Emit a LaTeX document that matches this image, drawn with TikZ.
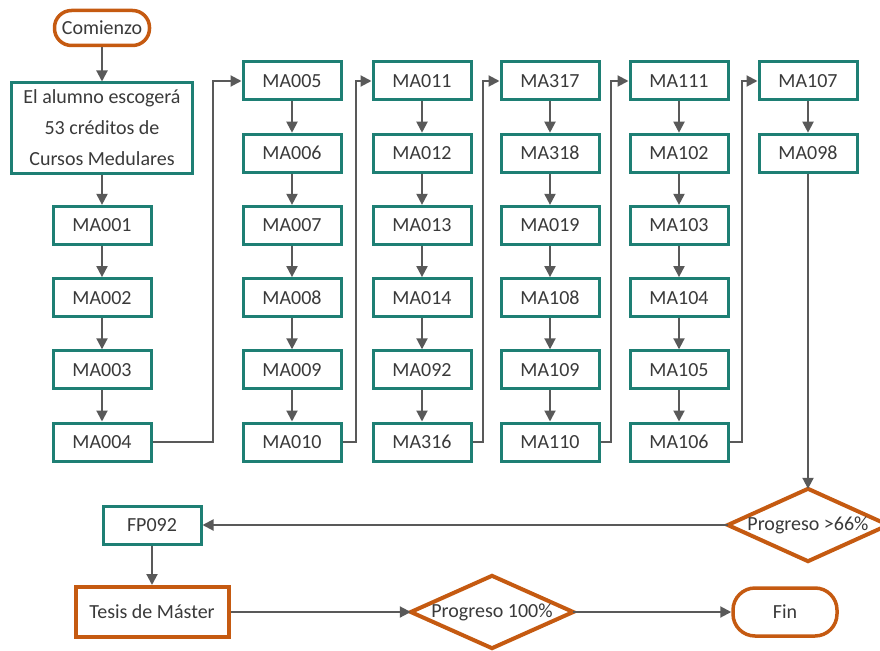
\documentclass[tikz,border=0pt]{standalone}
\usepackage{fontspec}
\setmainfont{Carlito}
\usetikzlibrary{arrows.meta,calc}
\definecolor{teal1}{HTML}{1E7F74}
\definecolor{orng}{HTML}{C55A11}
\definecolor{conn}{HTML}{595959}
\definecolor{txt}{HTML}{3A3A3A}
\tikzset{
  box/.style={draw=teal1, line width=3pt, fill=white, minimum width=98pt, minimum height=38pt, inner sep=0pt, text=txt, font=\fontsize{20}{31}\selectfont},
  term/.style={draw=orng, line width=3.5pt, fill=white, rounded corners=17pt, inner sep=0pt, text=txt, font=\fontsize{20}{31}\selectfont},
  obox/.style={draw=orng, line width=4pt, fill=white, inner sep=0pt, text=txt, font=\fontsize{20}{31}\selectfont},
  dtext/.style={inner sep=0pt, text=txt, font=\fontsize{20}{31}\selectfont},
  dia/.style={draw=orng, line width=4pt, fill=white},
  conn/.style={draw=conn, line width=2pt, -{Triangle[length=11pt,width=11pt]}},
}
\begin{document}
\begin{tikzpicture}[x=1pt,y=-1pt]
\useasboundingbox (0,0) rectangle (880,650);
% start
\node[term, minimum width=95pt, minimum height=35pt] (start) at (102,28) {Comienzo};
\node[box, minimum width=181pt, minimum height=90pt, align=center] (big) at (102,128) {El alumno escogerá\\53 créditos de\\Cursos Medulares};
% column 1
\node[box] (MA001) at (102,225.4) {MA001};
\node[box] (MA002) at (102,297.6) {MA002};
\node[box] (MA003) at (102,369.8) {MA003};
\node[box] (MA004) at (102,442) {MA004};
% column 2
\node[box] (MA005) at (292,81) {MA005};
\node[box] (MA006) at (292,153.2) {MA006};
\node[box] (MA007) at (292,225.4) {MA007};
\node[box] (MA008) at (292,297.6) {MA008};
\node[box] (MA009) at (292,369.8) {MA009};
\node[box] (MA010) at (292,442) {MA010};
% column 3
\node[box] (MA011) at (422,81) {MA011};
\node[box] (MA012) at (422,153.2) {MA012};
\node[box] (MA013) at (422,225.4) {MA013};
\node[box] (MA014) at (422,297.6) {MA014};
\node[box] (MA092) at (422,369.8) {MA092};
\node[box] (MA316) at (422,442) {MA316};
% column 4
\node[box] (MA317) at (550,81) {MA317};
\node[box] (MA318) at (550,153.2) {MA318};
\node[box] (MA019) at (550,225.4) {MA019};
\node[box] (MA108) at (550,297.6) {MA108};
\node[box] (MA109) at (550,369.8) {MA109};
\node[box] (MA110) at (550,442) {MA110};
% column 5
\node[box] (MA111) at (679,81) {MA111};
\node[box] (MA102) at (679,153.2) {MA102};
\node[box] (MA103) at (679,225.4) {MA103};
\node[box] (MA104) at (679,297.6) {MA104};
\node[box] (MA105) at (679,369.8) {MA105};
\node[box] (MA106) at (679,442) {MA106};
% column 6
\node[box] (MA107) at (808,81) {MA107};
\node[box] (MA098) at (808,153.2) {MA098};
% lower part
\node[dtext, minimum width=160pt, minimum height=72pt] (d1) at (808,525) {};
\draw[dia] (d1.west) -- (d1.north) -- (d1.east) -- (d1.south) -- cycle;
\node[dtext] (d1t) at (d1) {Progreso >66\%};
\node[box] (FP092) at (152,525) {FP092};
\node[obox, minimum width=153pt, minimum height=50pt] (tesis) at (152,612) {Tesis de Máster};
\node[dtext, minimum width=162pt, minimum height=72pt] (d2) at (492,612) {};
\draw[dia] (d2.west) -- (d2.north) -- (d2.east) -- (d2.south) -- cycle;
\node[dtext] (d2t) at (d2) {Progreso 100\%};
\node[term, minimum width=104pt, minimum height=48pt, rounded corners=22pt] (fin) at (785,612) {Fin};
% junction coordinates
\coordinate (j1) at (213,0);
\coordinate (j2) at (356,0);
\coordinate (j3) at (483,0);
\coordinate (j4) at (611,0);
\coordinate (j5) at (742,0);
% vertical arrows
\draw[conn] (start) -- (big);
\draw[conn] (big) -- (MA001);
\foreach \a/\b in {MA001/MA002,MA002/MA003,MA003/MA004,
  MA005/MA006,MA006/MA007,MA007/MA008,MA008/MA009,MA009/MA010,
  MA011/MA012,MA012/MA013,MA013/MA014,MA014/MA092,MA092/MA316,
  MA317/MA318,MA318/MA019,MA019/MA108,MA108/MA109,MA109/MA110,
  MA111/MA102,MA102/MA103,MA103/MA104,MA104/MA105,MA105/MA106,
  MA107/MA098}
  \draw[conn] (\a) -- (\b);
% column transfers
\draw[conn] (MA004.east) -- (MA004.east -| j1) -- (MA005.west -| j1) -- (MA005.west);
\draw[conn] (MA010.east) -- (MA010.east -| j2) -- (MA011.west -| j2) -- (MA011.west);
\draw[conn] (MA316.east) -- (MA316.east -| j3) -- (MA317.west -| j3) -- (MA317.west);
\draw[conn] (MA110.east) -- (MA110.east -| j4) -- (MA111.west -| j4) -- (MA111.west);
\draw[conn] (MA106.east) -- (MA106.east -| j5) -- (MA107.west -| j5) -- (MA107.west);
% lower flow
\draw[conn] (MA098.south) -- (d1.north);
\draw[conn] (d1.west) -- (FP092.east);
\draw[conn] (FP092.south) -- (tesis.north);
\draw[conn] (tesis.east) -- (d2.west);
\draw[conn] (d2.east) -- (fin.west);
\end{tikzpicture}
\end{document}
